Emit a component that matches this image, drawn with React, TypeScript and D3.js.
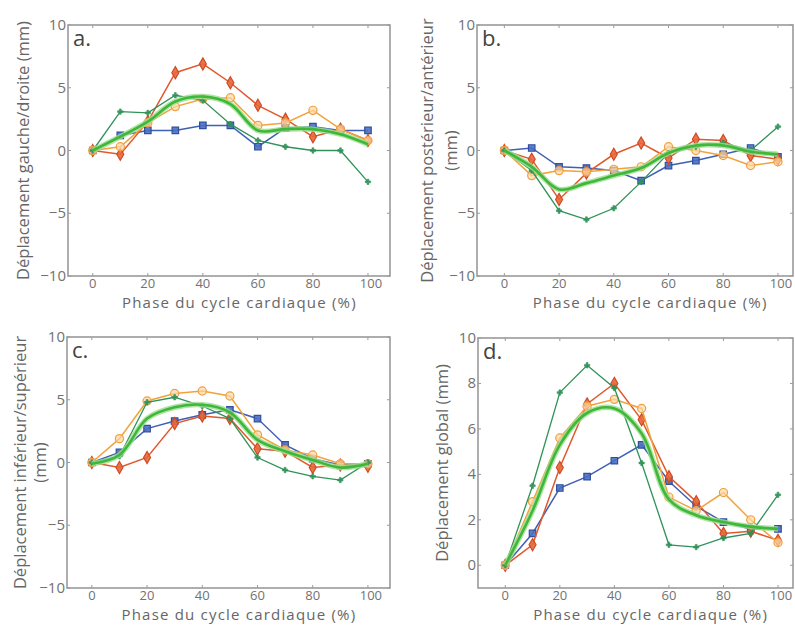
import React, { useRef, useEffect } from 'react';
import * as d3 from 'd3';

// phase of the cardiac cycle (%)
const phases = [0, 10, 20, 30, 40, 50, 60, 70, 80, 90, 100];

// a. gauche/droite
const aBlue = [0, 1.2, 1.6, 1.6, 2.0, 2.0, 0.3, 1.8, 1.9, 1.6, 1.6];
const aRed = [0, -0.3, 2.3, 6.2, 6.9, 5.4, 3.6, 2.5, 1.1, 1.7, 0.8];
const aOrange = [0, 0.3, 2.2, 3.5, 4.1, 4.2, 2.0, 2.2, 3.2, 1.7, 0.8];
const aDarkGreen = [0, 3.1, 3.0, 4.4, 4.0, 2.1, 0.8, 0.3, 0.0, 0.0, -2.5];
const aMean = [0, 1.1, 2.3, 3.9, 4.3, 3.7, 1.6, 1.7, 1.7, 1.3, 0.5];

// b. postérieur/antérieur
const bBlue = [0, 0.2, -1.3, -1.4, -1.6, -2.4, -1.2, -0.8, -0.3, 0.2, -0.5];
const bRed = [0, -0.7, -3.9, -1.8, -0.3, 0.6, -0.6, 0.9, 0.8, -0.4, -0.7];
const bOrange = [0, -2.0, -1.6, -1.7, -1.5, -1.3, 0.3, 0.0, -0.4, -1.2, -0.9];
const bDarkGreen = [0, -1.6, -4.8, -5.5, -4.6, -2.5, -0.2, 0.3, 0.6, 0.0, 1.9];
const bMean = [0, -1.3, -3.1, -2.6, -2.0, -1.4, -0.2, 0.4, 0.4, -0.1, -0.3];

// c. inférieur/supérieur
const cBlue = [0, 0.8, 2.7, 3.3, 3.8, 4.2, 3.5, 1.4, 0.3, -0.2, -0.1];
const cRed = [0, -0.4, 0.4, 3.1, 3.7, 3.5, 1.1, 0.9, -0.4, -0.2, -0.3];
const cOrange = [0, 1.9, 4.9, 5.5, 5.7, 5.3, 2.2, 1.0, 0.6, -0.1, -0.1];
const cDarkGreen = [0, 0.5, 4.8, 5.2, 4.5, 3.5, 0.4, -0.6, -1.1, -1.4, 0.0];
const cMean = [-0.1, 0.6, 3.5, 4.4, 4.6, 4.0, 1.8, 0.9, 0.2, -0.4, -0.1];

// d. global
const dBlue = [0, 1.4, 3.4, 3.9, 4.6, 5.3, 3.7, 2.6, 1.9, 1.6, 1.6];
const dRed = [0, 0.9, 4.3, 7.1, 8.0, 6.4, 3.9, 2.8, 1.4, 1.5, 1.1];
const dOrange = [0, 2.8, 5.6, 7.0, 7.3, 6.9, 3.0, 2.4, 3.2, 2.0, 1.0];
const dDarkGreen = [0, 3.5, 7.6, 8.8, 7.8, 4.5, 0.9, 0.8, 1.2, 1.4, 3.1];
const dMean = [0, 2.4, 5.3, 6.7, 6.9, 5.8, 2.9, 2.2, 1.9, 1.7, 1.6];

const xTicks = [0, 20, 40, 60, 80, 100];
const yTicksSym = [-10, -5, 0, 5, 10];
const yTicksGlobal = [0, 2, 4, 6, 8, 10];
const xLabel = 'Phase du cycle cardiaque (%)';

const panels = [
  { tag: 'a.', left: 68, right: 390, top: 25, bottom: 276, xDom: [-9, 108], yDom: [-10, 10], yTicks: yTicksSym,
    yLabel: ['Déplacement gauche/droite (mm)'], labelX: [23],
    series: [aBlue, aRed, aOrange, aDarkGreen], mean: aMean },
  { tag: 'b.', left: 477, right: 793, top: 25, bottom: 276, xDom: [-10, 105.5], yDom: [-10, 10], yTicks: yTicksSym,
    yLabel: ['Déplacement postérieur/antérieur', '(mm)'], labelX: [427, 451],
    series: [bBlue, bRed, bOrange, bDarkGreen], mean: bMean },
  { tag: 'c.', left: 67, right: 390, top: 337, bottom: 588, xDom: [-9, 108], yDom: [-10, 10], yTicks: yTicksSym,
    yLabel: ['Déplacement inférieur/supérieur', '(mm)'], labelX: [20, 40],
    series: [cBlue, cRed, cOrange, cDarkGreen], mean: cMean },
  { tag: 'd.', left: 478, right: 793, top: 338, bottom: 588, xDom: [-10, 105.5], yDom: [-1, 10], yTicks: yTicksGlobal,
    yLabel: ['Déplacement global (mm)'], labelX: [442],
    series: [dBlue, dRed, dOrange, dDarkGreen], mean: dMean },
];

// blue squares, red diamonds, orange circles, dark green crosses
const styles = [
  { line: '#3f5fb3', fill: '#4a6fc2', stroke: '#2f4f9f', symbol: d3.symbolSquare, size: 42 },
  { line: '#e0582c', fill: '#e8673a', stroke: '#cf4a22', symbol: d3.symbolDiamond, size: 42 },
  { line: '#f2a23c', fill: '#fcd8a6', stroke: '#f0a040', symbol: d3.symbolCircle, size: 52 },
  { line: '#2f9258', fill: '#2f9258', stroke: '#2f9258', symbol: d3.symbolCross, size: 16 },
];

const FONT = '"Open Sans", "DejaVu Sans", sans-serif';

const App = () => {
  const svgRef = useRef<SVGSVGElement>(null);

  useEffect(() => {
    const svg = d3.select(svgRef.current);
    svg.selectAll('*').remove();

    panels.forEach(p => {
      const x = d3.scaleLinear().domain(p.xDom).range([p.left, p.right]);
      const y = d3.scaleLinear().domain(p.yDom).range([p.bottom, p.top]);
      const g = svg.append('g');

      // frame
      g.append('rect')
        .attr('x', x(p.xDom[0])).attr('y', y(p.yDom[1]))
        .attr('width', x(p.xDom[1]) - x(p.xDom[0]))
        .attr('height', y(p.yDom[0]) - y(p.yDom[1]))
        .attr('fill', 'none').attr('stroke', '#9a9a9a').attr('stroke-width', 1.6);

      // inward ticks on all sides
      xTicks.forEach(t => {
        g.append('line').attr('x1', x(t)).attr('x2', x(t)).attr('y1', p.bottom).attr('y2', p.bottom - 3)
          .attr('stroke', '#9a9a9a');
        g.append('line').attr('x1', x(t)).attr('x2', x(t)).attr('y1', p.top).attr('y2', p.top + 3)
          .attr('stroke', '#9a9a9a');
        g.append('text').attr('x', x(t) + (t === 100 ? 3 : 0)).attr('y', p.bottom + 12)
          .attr('text-anchor', 'middle').attr('font-family', FONT).attr('font-size', 13)
          .attr('fill', '#727272').text(t);
      });
      p.yTicks.forEach(t => {
        g.append('line').attr('x1', p.left).attr('x2', p.left + 3).attr('y1', y(t)).attr('y2', y(t))
          .attr('stroke', '#9a9a9a');
        g.append('line').attr('x1', p.right).attr('x2', p.right - 3).attr('y1', y(t)).attr('y2', y(t))
          .attr('stroke', '#9a9a9a');
        g.append('text').attr('x', p.left - 2).attr('y', y(t) + 5)
          .attr('text-anchor', 'end').attr('font-family', FONT).attr('font-size', 15)
          .attr('fill', '#727272').text(t < 0 ? '\u2212' + Math.abs(t) : t);
      });

      // x label
      g.append('text').attr('x', (x(0) + x(100)) / 2 + 9).attr('y', p.bottom + 32)
        .attr('text-anchor', 'middle').attr('font-family', FONT).attr('font-size', 15)
        .attr('letter-spacing', 1.2).attr('fill', '#666').text(xLabel);

      // y label(s)
      p.yLabel.forEach((txt, i) => {
        const cx = p.labelX[i];
        const cy = (p.top + p.bottom) / 2;
        g.append('text').attr('transform', `translate(${cx + 6},${cy}) rotate(-90)`)
          .attr('text-anchor', 'middle').attr('font-family', FONT).attr('font-size', 16.5)
          .attr('fill', '#666').text(txt);
      });

      // panel tag
      g.append('text').attr('x', p.left + 5).attr('y', p.top + 21)
        .attr('font-family', FONT).attr('font-size', 22).attr('fill', '#444').text(p.tag);

      // series
      const line = d3.line<number>().x((_, i) => x(phases[i])).y(v => y(v));
      p.series.forEach((vals, si) => {
        const st = styles[si];
        g.append('path').datum(vals).attr('d', line).attr('fill', 'none')
          .attr('stroke', st.line).attr('stroke-width', si === 3 ? 1.3 : 1.5);
        g.selectAll(null).data(vals).enter().append('path')
          .attr('transform', (v, i) => `translate(${x(phases[i])},${y(v)})`)
          .attr('d', d3.symbol().type(st.symbol).size(st.size)())
          .attr('fill', st.fill).attr('stroke', st.stroke)
          .attr('stroke-width', si === 3 ? 0.6 : 1.2).attr('fill-opacity', si === 2 ? 0.7 : 0.9);
      });

      // mean curve (thick smooth green)
      const smooth = d3.line<number>().x((_, i) => x(phases[i])).y(v => y(v)).curve(d3.curveCatmullRom);
      g.append('path').datum(p.mean).attr('d', smooth).attr('fill', 'none')
        .attr('stroke', '#9ddc8f').attr('stroke-width', 5.5).attr('stroke-opacity', 0.8);
      g.append('path').datum(p.mean).attr('d', smooth).attr('fill', 'none')
        .attr('stroke', '#3db83a').attr('stroke-width', 2.6);
    });
  }, []);

  return (
    <svg ref={svgRef} width={795} height={626}
      style={{ position: 'absolute', left: 0, top: 0, background: '#fff' }} />
  );
};

export default App;
